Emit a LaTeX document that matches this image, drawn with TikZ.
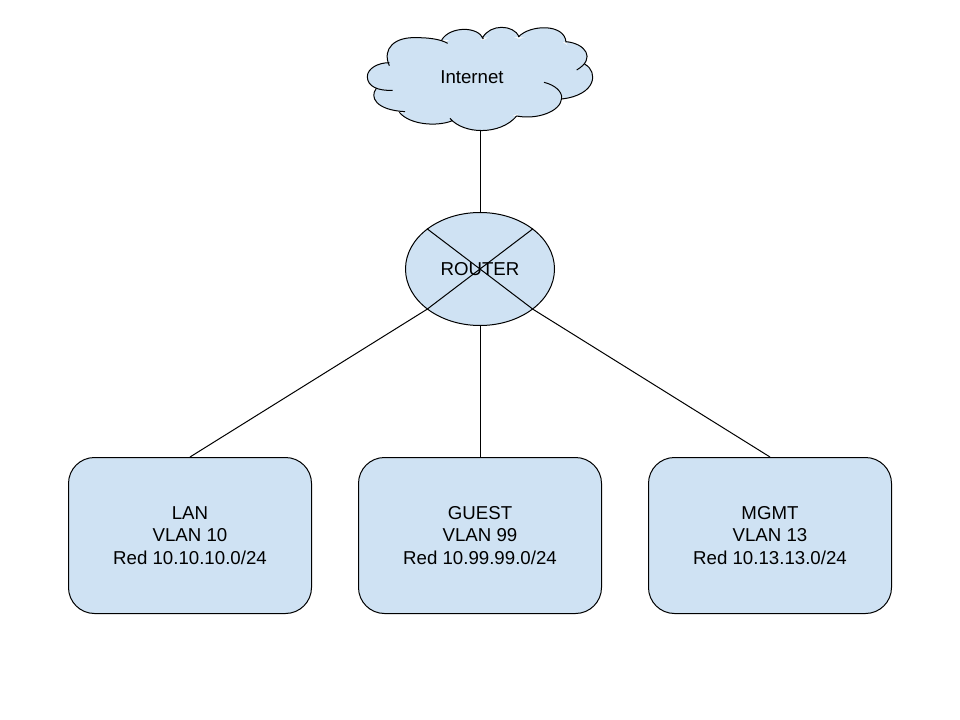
\documentclass[tikz,border=0pt]{standalone}
\usepackage{fontspec}
\setmainfont{Liberation Sans}
\usetikzlibrary{shapes.geometric}
\definecolor{paleblue}{HTML}{CFE2F3}
\tikzset{
  ink/.style={draw=black,line width=0.75pt},
  label text/.style={font=\fontsize{14}{16.9}\selectfont,text=black,align=center,inner sep=0pt},
  vlanbox/.style={ink,fill=paleblue,rounded corners=19.5pt,minimum width=182.25pt,minimum height=117pt,label text},
  routershape/.style={ink,fill=paleblue,ellipse,minimum width=111.75pt,minimum height=84.75pt,label text},
  cloudarea/.style={minimum width=168pt,minimum height=77.25pt,inner sep=0pt},
  link/.style={ink}
}
\def\lobeA{(128,226) .. controls (85,228) and (52,215) .. (52,185) .. controls (52,160) and (85,143) .. (118,143)}
\def\lobeB{(78,222) .. controls (60,245) and (75,285) .. (165,290)}
\def\lobeC{(118,152) .. controls (95,100) and (135,65) .. (200,68) .. controls (235,68) and (270,72) .. (293,85)}
\def\lobeD{(275,75) .. controls (300,33) and (385,33) .. (400,72)}
\def\lobeE{(398,68) .. controls (420,27) and (490,27) .. (508,66)}
\def\lobeF{(505,66) .. controls (540,28) and (645,25) .. (648,82)}
\def\lobeG{(648,80) .. controls (705,85) and (740,130) .. (680,165)}
\def\lobeH{(705,148) .. controls (745,170) and (740,240) .. (635,252)}
\def\lobeI{(582,202) .. controls (615,210) and (637,230) .. (635,250) .. controls (632,290) and (560,315) .. (500,303)}
\def\lobeJ{(500,303) .. controls (450,362) and (340,358) .. (300,310)}
\def\lobeK{(305,318) .. controls (260,335) and (180,330) .. (148,292)}
\begin{document}
\begin{tikzpicture}[x=0.75pt,y=-0.75pt]
\useasboundingbox (0,0) rectangle (960,720);
\node[cloudarea] (cloud) at (480,78.5) {};
\node[routershape] (router) at (480,269) {ROUTER};
\node[vlanbox] (lan) at (190,535.5) {LAN\\VLAN 10\\Red 10.10.10.0/24};
\node[vlanbox] (guest) at (480,535.5) {GUEST\\VLAN 99\\Red 10.99.99.0/24};
\node[vlanbox] (mgmt) at (770,535.5) {MGMT\\VLAN 13\\Red 10.13.13.0/24};
\draw[link] (cloud.south) -- (router.north);
\draw[link] (router.south) -- (guest.north);
\draw[link] (router.south west) -- (lan.north);
\draw[link] (router.south east) -- (mgmt.north);
\draw[link] (router.north west) -- (router.south east);
\draw[link] (router.north east) -- (router.south west);
\begin{scope}[x=0.25pt,y=-0.25pt,shift={(262.5pt,-11.25pt)}]
\fill[paleblue] \lobeA -- cycle;
\fill[paleblue] \lobeB -- cycle;
\fill[paleblue] \lobeC -- cycle;
\fill[paleblue] \lobeD -- cycle;
\fill[paleblue] \lobeE -- cycle;
\fill[paleblue] \lobeF -- cycle;
\fill[paleblue] \lobeG -- cycle;
\fill[paleblue] \lobeH -- cycle;
\fill[paleblue] \lobeI -- cycle;
\fill[paleblue] \lobeJ -- cycle;
\fill[paleblue] \lobeK -- cycle;
\fill[paleblue] (118,150) -- (200,75) -- (285,82) -- (340,55) -- (399,76) -- (450,50) -- (506,72) -- (590,50) -- (648,88) -- (695,130) -- (705,150) -- (700,190) -- (635,248) -- (500,298) -- (400,335) -- (300,318) -- (220,318) -- (150,288) -- (78,222) -- (60,185) -- cycle;
\draw[ink,line join=round]
  \lobeA \lobeB \lobeC \lobeD \lobeE \lobeF \lobeG \lobeH \lobeI \lobeJ \lobeK;
\end{scope}
\node[label text] (internet) at (472,77) {Internet};
\end{tikzpicture}
\end{document}
